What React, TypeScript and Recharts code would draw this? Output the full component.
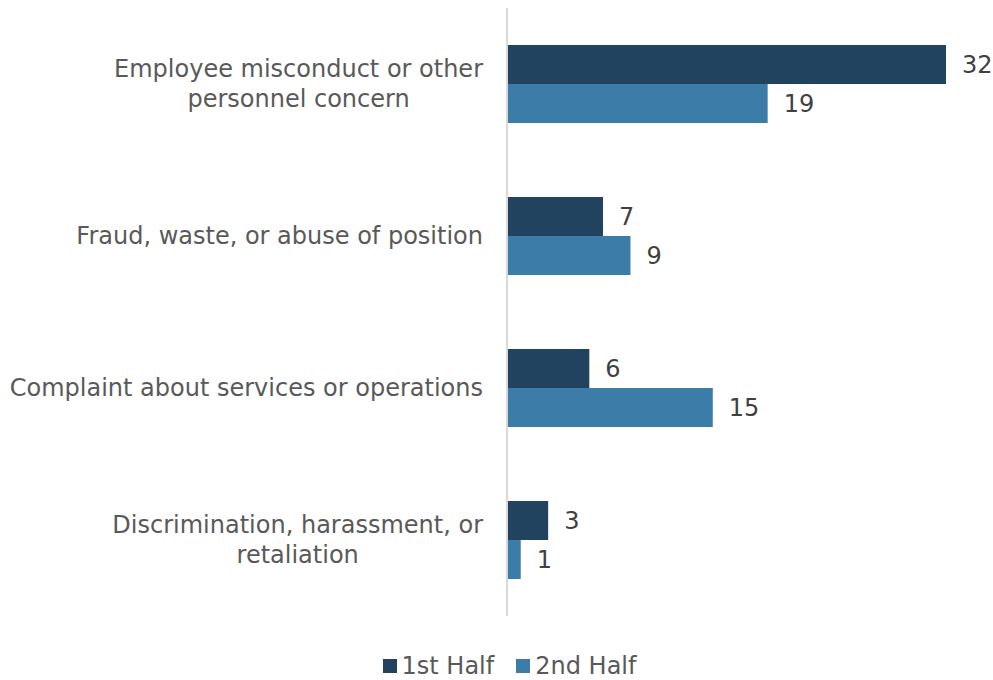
import React from 'react';
import { BarChart, Bar, XAxis, YAxis, Legend, LabelList } from 'recharts';

// categories, top to bottom ("\n" marks a wrapped line)
const categories = [
  'Employee misconduct or other\npersonnel concern',
  'Fraud, waste, or abuse of position',
  'Complaint about services or operations',
  'Discrimination, harassment, or\nretaliation',
];
const firstHalf = [32, 7, 6, 3];
const secondHalf = [19, 9, 15, 1];

const DARK = '#21435F';
const LIGHT = '#3B7CA8';
const FONT = '"DejaVu Sans", Verdana, sans-serif';
const FS = 24;

const data = categories.map((category, i) => ({
  category,
  first: firstHalf[i],
  second: secondHalf[i],
}));

let ctx: CanvasRenderingContext2D | null = null;
const measure = (s: string) => {
  if (!ctx) ctx = document.createElement('canvas').getContext('2d');
  if (!ctx) return s.length * FS * 0.6;
  ctx.font = `${FS}px ${FONT}`;
  return ctx.measureText(s).width;
};

// wrapped labels: block is right-aligned, lines centred within it
const CategoryTick = ({ x, y, payload }: any) => {
  const lines = String(payload.value).split('\n');
  const lineH = 30;
  const start = y - ((lines.length - 1) * lineH) / 2;
  const w = Math.max(...lines.map(measure));
  const cx = lines.length > 1 ? x - w / 2 : x;
  const anchor = lines.length > 1 ? 'middle' : 'end';
  return (
    <text x={cx} y={start} textAnchor={anchor} fill="#595959" fontSize={FS} fontFamily={FONT}>
      {lines.map((l, i) => (
        <tspan key={i} x={cx} y={start + i * lineH} dominantBaseline="central">
          {l}
        </tspan>
      ))}
    </text>
  );
};

const LegendContent = () => (
  <div style={{ display: 'flex', justifyContent: 'center', gap: 22, fontFamily: FONT, fontSize: FS, color: '#595959', lineHeight: '28px' }}>
    {[
      { name: '1st Half', color: DARK },
      { name: '2nd Half', color: LIGHT },
    ].map((s) => (
      <div key={s.name} style={{ display: 'flex', alignItems: 'center', gap: 5 }}>
        <span style={{ width: 14, height: 14, background: s.color, display: 'inline-block' }} />
        <span>{s.name}</span>
      </div>
    ))}
  </div>
);

export default function App() {
  return (
    <div style={{ position: 'absolute', left: 0, top: 0, background: '#fff' }}>
      <BarChart
        width={993}
        height={680}
        data={data}
        layout="vertical"
        margin={{ top: 8, right: 47, bottom: 36, left: 0 }}
        barGap={0}
        barCategoryGap="24%"
      >
        <XAxis type="number" domain={[0, 32]} hide />
        <YAxis
          type="category"
          dataKey="category"
          width={507}
          axisLine={{ stroke: '#D9D9D9', strokeWidth: 2 }}
          tickLine={false}
          tickSize={0}
          tickMargin={24}
          tick={<CategoryTick />}
        />
        <Legend verticalAlign="bottom" content={<LegendContent />} wrapperStyle={{ top: 652, left: 26, width: 967 }} />
        <Bar dataKey="first" name="1st Half" fill={DARK} barSize={39} isAnimationActive={false}>
          <LabelList dataKey="first" position="right" offset={16} fill="#404040" fontSize={FS} fontFamily={FONT} />
        </Bar>
        <Bar dataKey="second" name="2nd Half" fill={LIGHT} barSize={39} isAnimationActive={false}>
          <LabelList dataKey="second" position="right" offset={16} fill="#404040" fontSize={FS} fontFamily={FONT} />
        </Bar>
      </BarChart>
    </div>
  );
}
